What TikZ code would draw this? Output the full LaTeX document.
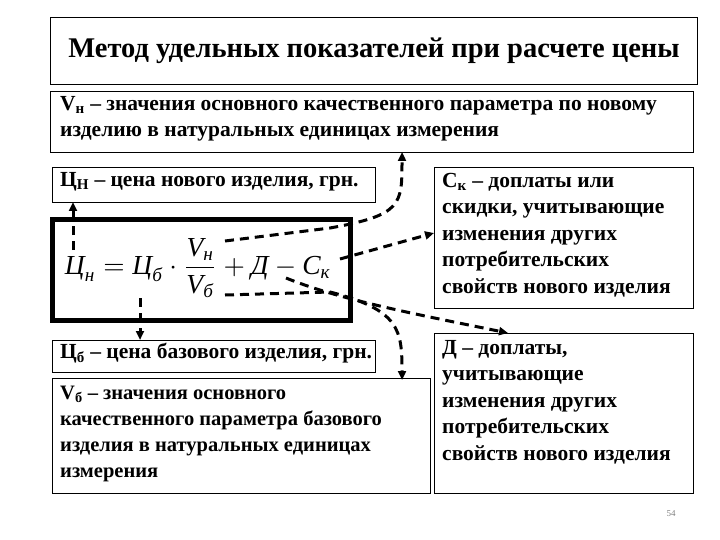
\documentclass[tikz,border=0pt]{standalone}
\usepackage{fontspec}
\setmainfont{Liberation Serif}
\usetikzlibrary{arrows.meta}
\begin{document}
\begin{tikzpicture}[x=1pt,y=-1pt,
  bx/.style={draw,line width=0.8pt},
  txt/.style={anchor=north west,align=left,inner sep=0pt,font=\fontsize{21.5}{26.5}\selectfont\bfseries},
  dsh/.style={line width=3pt,dash pattern=on 9pt off 6pt,-{Triangle[length=9pt,width=8pt]}}]
\useasboundingbox (0,0) rectangle (720,540);
\draw[bx,line width=1pt] (50,18) rectangle (697,85);
\node[font=\fontsize{28.5}{32}\selectfont\bfseries] (title) at (374,51) {Метод удельных показателей при расчете цены};
\draw[bx] (50,91) rectangle (693,152);
\node[txt] (vn) at (60,96) {V\textsubscript{н} – значения основного качественного параметра по новому\\изделию в натуральных единицах измерения};
\draw[bx] (52,167) rectangle (375,202);
\node[txt] (cn) at (60,172) {Ц\textsubscript{Н} – цена нового изделия, грн.};
\draw[line width=5pt] (52,220) rectangle (350,320);
\node[scale=2.75] (f) at (198,268) {$\displaystyle\mbox{\itshape Ц}_{\mbox{\scriptsize\itshape н}} = \mbox{\itshape Ц}_{\mbox{\scriptsize\itshape б}}\cdot\frac{\mbox{\itshape V}_{\mbox{\scriptsize\itshape н}}}{\mbox{\itshape V}_{\mbox{\scriptsize\itshape б}}} + \mbox{\itshape Д} - \mbox{\itshape С}_{\mbox{\scriptsize\itshape к}}$};
\draw[bx] (434,167) rectangle (693,308);
\node[txt] (ck) at (442,173) {С\textsubscript{к} – доплаты или\\скидки, учитывающие\\изменения других\\потребительских\\свойств нового изделия};
\draw[bx] (52,340) rectangle (375,372);
\node[txt] (cb) at (60,343) {Ц\textsubscript{б} – цена базового изделия, грн.};
\draw[bx] (52,378) rectangle (430,493);
\node[txt,font=\fontsize{20.5}{26}\selectfont\bfseries] (vb) at (60,386) {V\textsubscript{б} – значения основного\\качественного параметра  базового\\изделия в натуральных единицах\\измерения};
\draw[bx] (434,333) rectangle (693,493);
\node[txt] (d) at (442,340) {Д – доплаты,\\учитывающие\\изменения других\\потребительских\\свойств нового изделия};
\node[font=\small,text=gray] (pg) at (671,514) {54};
\coordinate (a1) at (73,250); \coordinate (e1) at (73,202);
\coordinate (a2) at (140,298); \coordinate (e2) at (140,340);
\coordinate (a3) at (225,241); \coordinate (e3) at (402,152);
\coordinate (a4) at (225,295); \coordinate (e4) at (402,380);
\coordinate (a5) at (340,259); \coordinate (e5) at (434,233);
\coordinate (a6) at (286,278); \coordinate (e6) at (508,333);
\draw[dsh] (a1) -- (e1);
\draw[dsh] (a2) -- (e2);
\draw[dsh] (a3) -- (330,228) .. controls (402,215) and (402,205) .. (e3);
\draw[dsh] (a4) -- (330,292) .. controls (400,310) and (402,330) .. (e4);
\draw[dsh] (a5) -- (e5);
\draw[dsh] (a6) .. controls (340,300) and (420,315) .. (e6);
\end{tikzpicture}
\end{document}
